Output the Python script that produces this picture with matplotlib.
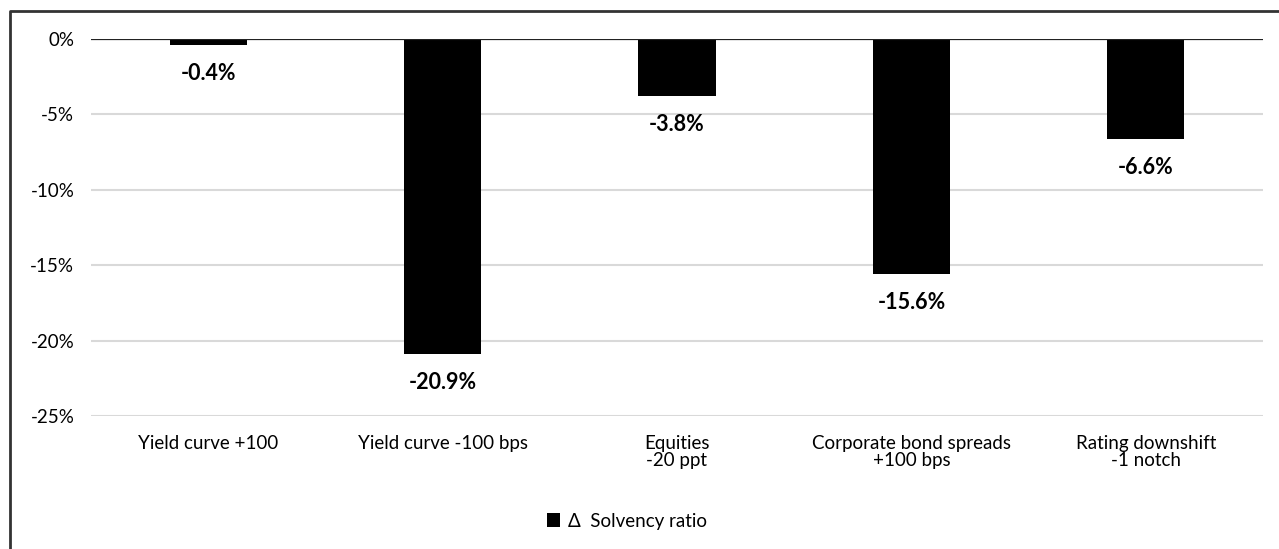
import matplotlib.pyplot as plt
from matplotlib.lines import Line2D
from matplotlib.ticker import FuncFormatter

plt.rcParams['font.family'] = ['Lato', 'DejaVu Sans']

categories = ['Yield curve +100', 'Yield curve -100 bps', 'Equities\n-20 ppt',
              'Corporate bond spreads\n+100 bps', 'Rating downshift\n-1 notch']
values = [-0.4, -20.9, -3.8, -15.6, -6.6]
series_name = 'Δ  Solvency ratio'

fig = plt.figure(figsize=(12.79, 5.49), dpi=100)
ax = fig.add_axes([91 / 1279, 1 - 416 / 549, (1263 - 91) / 1279, (416 - 39) / 549])

x = range(len(categories))
bars = ax.bar(x, values, width=0.33, color='black', label=series_name, zorder=3)

for b, v in zip(bars, values):
    ax.annotate(f'{v:.1f}%', (b.get_x() + b.get_width() / 2, v), xytext=(0, -13),
                textcoords='offset points', ha='center', va='top',
                fontsize=15.5, fontweight='bold')

ax.set_ylim(-25, 0)
ax.set_xlim(-0.5, len(categories) - 0.5)
ax.set_yticks([0, -5, -10, -15, -20, -25])
ax.yaxis.set_major_formatter(FuncFormatter(lambda v, p: f'{v:.0f}%'))
ax.grid(axis='y', color='#d9d9d9', linewidth=1.5, zorder=0)
ax.axhline(0, color='#222222', linewidth=1.6, zorder=4)

ax.set_xticks(list(x))
ax.set_xticklabels(categories, fontsize=13.5, linespacing=1.0, va='top')
ax.tick_params(axis='x', length=0, pad=14)
ax.tick_params(axis='y', length=0, pad=12, labelsize=13.5)
for s in ax.spines.values():
    s.set_visible(False)

fig.legend(loc='center', bbox_to_anchor=(0.49, 1 - 521 / 549), frameon=False,
           fontsize=13.5, handlelength=0.7, handleheight=0.7, handletextpad=0.4)

# outer border (only left and top edges fall inside the original crop)
top = 1 - 11 / 549
left = 10 / 1279
border = Line2D([left, left, 1.0], [0.0, top, top], transform=fig.transFigure,
                color='#333333', linewidth=2, clip_on=False)
fig.add_artist(border)

fig.savefig('out.png', dpi=100)
